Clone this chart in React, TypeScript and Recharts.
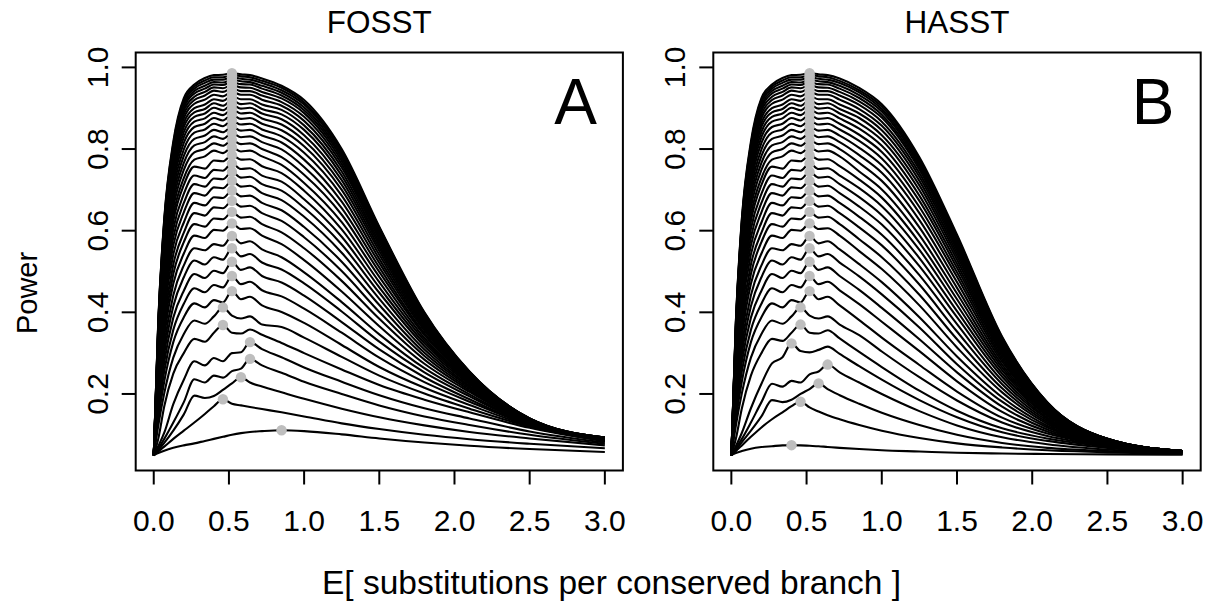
import React from 'react';
import { ComposedChart, Line, Scatter, XAxis, YAxis, ReferenceArea } from 'recharts';

// shared x positions (E[substitutions per conserved branch]) at which power was read
const xGrid = [0, 0.03, 0.07, 0.13, 0.2, 0.27, 0.34, 0.4, 0.46, 0.52, 0.58, 0.64, 0.72, 0.85, 1.0, 1.25, 1.5, 1.8, 2.1, 2.5, 3.0];

// six lowest curves, FOSST (panel A)
const lowA = [
  [0.05, 0.055, 0.061, 0.068, 0.074, 0.079, 0.085, 0.09, 0.095, 0.1, 0.104, 0.107, 0.109, 0.111, 0.109, 0.101, 0.091, 0.081, 0.073, 0.065, 0.058],
  [0.05, 0.059, 0.071, 0.09, 0.11, 0.13, 0.151, 0.17, 0.187, 0.176, 0.172, 0.168, 0.163, 0.155, 0.145, 0.128, 0.114, 0.1, 0.089, 0.078, 0.067],
  [0.05, 0.062, 0.08, 0.11, 0.15, 0.196, 0.19, 0.195, 0.21, 0.226, 0.241, 0.228, 0.218, 0.204, 0.188, 0.164, 0.143, 0.123, 0.107, 0.091, 0.074],
  [0.05, 0.066, 0.09, 0.13, 0.18, 0.236, 0.228, 0.245, 0.24, 0.256, 0.262, 0.286, 0.27, 0.252, 0.23, 0.2, 0.172, 0.145, 0.124, 0.1, 0.078],
  [0.05, 0.072, 0.105, 0.175, 0.235, 0.28, 0.27, 0.288, 0.28, 0.3, 0.302, 0.327, 0.31, 0.29, 0.265, 0.23, 0.197, 0.165, 0.14, 0.108, 0.081],
  [0.05, 0.09, 0.17, 0.25, 0.3, 0.335, 0.328, 0.35, 0.369, 0.35, 0.348, 0.358, 0.345, 0.325, 0.3, 0.26, 0.222, 0.186, 0.155, 0.117, 0.084],
];

// six lowest curves, HASST (panel B)
const lowB = [
  [0.05, 0.055, 0.06, 0.066, 0.07, 0.072, 0.074, 0.0745, 0.074, 0.073, 0.072, 0.07, 0.068, 0.065, 0.062, 0.059, 0.056, 0.054, 0.053, 0.052, 0.051],
  [0.05, 0.06, 0.074, 0.095, 0.118, 0.138, 0.155, 0.17, 0.181, 0.167, 0.157, 0.148, 0.138, 0.124, 0.11, 0.092, 0.079, 0.069, 0.062, 0.057, 0.053],
  [0.05, 0.063, 0.082, 0.11, 0.145, 0.185, 0.18, 0.186, 0.2, 0.212, 0.226, 0.212, 0.197, 0.176, 0.154, 0.124, 0.1, 0.08, 0.068, 0.06, 0.054],
  [0.05, 0.067, 0.09, 0.13, 0.18, 0.225, 0.218, 0.232, 0.228, 0.248, 0.255, 0.272, 0.253, 0.228, 0.2, 0.158, 0.123, 0.094, 0.077, 0.064, 0.056],
  [0.05, 0.072, 0.105, 0.165, 0.225, 0.275, 0.29, 0.324, 0.305, 0.302, 0.308, 0.316, 0.298, 0.268, 0.235, 0.185, 0.143, 0.106, 0.085, 0.068, 0.057],
  [0.05, 0.09, 0.165, 0.245, 0.3, 0.335, 0.33, 0.35, 0.37, 0.35, 0.348, 0.356, 0.336, 0.303, 0.266, 0.208, 0.159, 0.116, 0.091, 0.071, 0.058],
];

// upper curves 7..38: values for x = 0 .. 0.72 (same in both panels)
const headUpper = [
  [0.05, 0.122, 0.202, 0.289, 0.347, 0.38, 0.372, 0.39, 0.412, 0.392, 0.385, 0.39, 0.37],
  [0.05, 0.138, 0.231, 0.327, 0.388, 0.422, 0.412, 0.43, 0.424, 0.452, 0.432, 0.438, 0.417],
  [0.05, 0.151, 0.256, 0.357, 0.421, 0.459, 0.449, 0.467, 0.461, 0.489, 0.469, 0.475, 0.454],
  [0.05, 0.164, 0.278, 0.387, 0.453, 0.494, 0.484, 0.502, 0.496, 0.524, 0.504, 0.51, 0.489],
  [0.05, 0.177, 0.298, 0.415, 0.486, 0.527, 0.517, 0.535, 0.529, 0.557, 0.537, 0.543, 0.522],
  [0.05, 0.187, 0.319, 0.442, 0.515, 0.557, 0.552, 0.567, 0.563, 0.587, 0.569, 0.574, 0.554],
  [0.05, 0.198, 0.34, 0.47, 0.544, 0.588, 0.582, 0.602, 0.6, 0.618, 0.604, 0.606, 0.588],
  [0.05, 0.208, 0.36, 0.494, 0.572, 0.616, 0.61, 0.63, 0.628, 0.646, 0.632, 0.634, 0.616],
  [0.05, 0.218, 0.377, 0.517, 0.595, 0.643, 0.637, 0.657, 0.655, 0.673, 0.659, 0.661, 0.643],
  [0.05, 0.231, 0.4, 0.542, 0.62, 0.668, 0.662, 0.682, 0.68, 0.698, 0.684, 0.686, 0.668],
  [0.05, 0.242, 0.416, 0.564, 0.645, 0.692, 0.686, 0.706, 0.704, 0.722, 0.708, 0.71, 0.692],
  [0.05, 0.251, 0.432, 0.584, 0.668, 0.714, 0.708, 0.728, 0.726, 0.744, 0.73, 0.732, 0.714],
  [0.05, 0.261, 0.447, 0.604, 0.69, 0.735, 0.729, 0.749, 0.747, 0.765, 0.751, 0.753, 0.735],
  [0.05, 0.271, 0.462, 0.623, 0.712, 0.757, 0.752, 0.772, 0.77, 0.785, 0.774, 0.775, 0.758],
  [0.05, 0.276, 0.472, 0.638, 0.729, 0.774, 0.782, 0.796, 0.79, 0.804, 0.794, 0.796, 0.782],
  [0.05, 0.285, 0.486, 0.656, 0.749, 0.792, 0.8, 0.814, 0.808, 0.822, 0.812, 0.814, 0.8],
  [0.05, 0.293, 0.5, 0.672, 0.766, 0.809, 0.817, 0.831, 0.825, 0.839, 0.829, 0.831, 0.817],
  [0.05, 0.3, 0.513, 0.686, 0.783, 0.825, 0.833, 0.847, 0.841, 0.855, 0.845, 0.847, 0.833],
  [0.05, 0.307, 0.526, 0.701, 0.799, 0.84, 0.848, 0.862, 0.856, 0.87, 0.86, 0.862, 0.848],
  [0.05, 0.314, 0.538, 0.715, 0.815, 0.854, 0.862, 0.876, 0.87, 0.884, 0.874, 0.876, 0.862],
  [0.05, 0.321, 0.55, 0.728, 0.829, 0.867, 0.875, 0.889, 0.883, 0.897, 0.887, 0.889, 0.875],
  [0.05, 0.328, 0.56, 0.739, 0.842, 0.879, 0.887, 0.901, 0.895, 0.909, 0.899, 0.901, 0.887],
  [0.05, 0.334, 0.57, 0.749, 0.854, 0.89, 0.898, 0.912, 0.906, 0.92, 0.91, 0.912, 0.898],
  [0.05, 0.341, 0.579, 0.759, 0.864, 0.9, 0.909, 0.922, 0.918, 0.93, 0.922, 0.922, 0.909],
  [0.05, 0.348, 0.588, 0.771, 0.875, 0.911, 0.921, 0.933, 0.929, 0.94, 0.933, 0.933, 0.921],
  [0.05, 0.354, 0.597, 0.78, 0.885, 0.92, 0.931, 0.943, 0.94, 0.949, 0.942, 0.942, 0.931],
  [0.05, 0.359, 0.604, 0.788, 0.894, 0.928, 0.94, 0.951, 0.949, 0.957, 0.951, 0.95, 0.94],
  [0.05, 0.364, 0.61, 0.796, 0.901, 0.936, 0.948, 0.958, 0.957, 0.964, 0.959, 0.958, 0.948],
  [0.05, 0.367, 0.616, 0.802, 0.907, 0.942, 0.955, 0.964, 0.963, 0.97, 0.966, 0.964, 0.955],
  [0.05, 0.371, 0.621, 0.807, 0.914, 0.948, 0.962, 0.97, 0.97, 0.976, 0.972, 0.97, 0.962],
  [0.05, 0.375, 0.626, 0.812, 0.92, 0.953, 0.968, 0.976, 0.976, 0.981, 0.978, 0.976, 0.967],
  [0.05, 0.378, 0.63, 0.818, 0.925, 0.958, 0.974, 0.981, 0.982, 0.986, 0.983, 0.981, 0.973],
];

// upper curves 7..38: values for x = 0.85 .. 3.0, FOSST
const tailA = [
  [0.364, 0.338, 0.291, 0.245, 0.201, 0.164, 0.12, 0.085],
  [0.401, 0.374, 0.32, 0.266, 0.215, 0.173, 0.122, 0.086],
  [0.439, 0.409, 0.35, 0.289, 0.229, 0.181, 0.124, 0.086],
  [0.473, 0.441, 0.376, 0.309, 0.241, 0.187, 0.125, 0.087],
  [0.505, 0.471, 0.402, 0.328, 0.253, 0.194, 0.126, 0.087],
  [0.535, 0.498, 0.425, 0.346, 0.263, 0.199, 0.127, 0.088],
  [0.567, 0.528, 0.451, 0.366, 0.274, 0.205, 0.128, 0.088],
  [0.596, 0.557, 0.477, 0.384, 0.284, 0.209, 0.129, 0.088],
  [0.624, 0.584, 0.501, 0.401, 0.293, 0.213, 0.13, 0.089],
  [0.65, 0.609, 0.524, 0.418, 0.301, 0.217, 0.131, 0.089],
  [0.675, 0.634, 0.546, 0.433, 0.309, 0.22, 0.132, 0.089],
  [0.698, 0.656, 0.566, 0.448, 0.317, 0.224, 0.132, 0.089],
  [0.72, 0.677, 0.585, 0.461, 0.324, 0.227, 0.133, 0.09],
  [0.741, 0.698, 0.603, 0.474, 0.331, 0.23, 0.134, 0.09],
  [0.761, 0.717, 0.621, 0.487, 0.337, 0.232, 0.134, 0.09],
  [0.78, 0.737, 0.639, 0.499, 0.344, 0.235, 0.135, 0.09],
  [0.799, 0.756, 0.655, 0.51, 0.349, 0.237, 0.135, 0.091],
  [0.816, 0.774, 0.671, 0.521, 0.355, 0.239, 0.136, 0.091],
  [0.831, 0.791, 0.686, 0.531, 0.36, 0.241, 0.136, 0.091],
  [0.846, 0.807, 0.7, 0.541, 0.365, 0.242, 0.137, 0.091],
  [0.86, 0.821, 0.712, 0.55, 0.369, 0.244, 0.137, 0.092],
  [0.873, 0.834, 0.724, 0.558, 0.374, 0.245, 0.138, 0.092],
  [0.885, 0.847, 0.735, 0.565, 0.377, 0.247, 0.138, 0.092],
  [0.896, 0.858, 0.745, 0.572, 0.381, 0.248, 0.138, 0.092],
  [0.906, 0.869, 0.755, 0.579, 0.384, 0.249, 0.139, 0.092],
  [0.915, 0.879, 0.763, 0.585, 0.387, 0.25, 0.139, 0.092],
  [0.924, 0.888, 0.771, 0.59, 0.39, 0.251, 0.139, 0.093],
  [0.931, 0.895, 0.778, 0.595, 0.392, 0.252, 0.139, 0.093],
  [0.938, 0.902, 0.784, 0.599, 0.394, 0.253, 0.139, 0.093],
  [0.944, 0.909, 0.79, 0.603, 0.397, 0.254, 0.14, 0.093],
  [0.95, 0.914, 0.795, 0.607, 0.398, 0.254, 0.14, 0.093],
  [0.955, 0.92, 0.8, 0.61, 0.4, 0.255, 0.14, 0.093],
];

// upper curves 7..38: values for x = 0.85 .. 3.0, HASST
const tailB = [
  [0.344, 0.304, 0.241, 0.184, 0.13, 0.097, 0.073, 0.058],
  [0.381, 0.338, 0.271, 0.206, 0.142, 0.103, 0.074, 0.058],
  [0.42, 0.377, 0.305, 0.231, 0.156, 0.108, 0.075, 0.058],
  [0.455, 0.411, 0.334, 0.253, 0.169, 0.113, 0.076, 0.058],
  [0.488, 0.444, 0.363, 0.273, 0.181, 0.118, 0.078, 0.059],
  [0.518, 0.474, 0.388, 0.292, 0.192, 0.122, 0.079, 0.059],
  [0.55, 0.506, 0.417, 0.314, 0.204, 0.127, 0.08, 0.059],
  [0.579, 0.535, 0.443, 0.334, 0.214, 0.131, 0.081, 0.059],
  [0.608, 0.564, 0.468, 0.353, 0.224, 0.135, 0.082, 0.059],
  [0.634, 0.59, 0.491, 0.371, 0.233, 0.139, 0.082, 0.059],
  [0.659, 0.615, 0.513, 0.388, 0.242, 0.142, 0.083, 0.06],
  [0.682, 0.638, 0.533, 0.403, 0.25, 0.146, 0.084, 0.06],
  [0.704, 0.66, 0.553, 0.418, 0.258, 0.149, 0.085, 0.06],
  [0.725, 0.681, 0.571, 0.432, 0.265, 0.152, 0.085, 0.06],
  [0.745, 0.701, 0.589, 0.446, 0.272, 0.155, 0.086, 0.06],
  [0.766, 0.722, 0.608, 0.46, 0.279, 0.157, 0.086, 0.06],
  [0.785, 0.742, 0.626, 0.474, 0.285, 0.159, 0.087, 0.06],
  [0.803, 0.76, 0.643, 0.487, 0.291, 0.162, 0.087, 0.06],
  [0.82, 0.777, 0.658, 0.498, 0.297, 0.164, 0.088, 0.06],
  [0.835, 0.793, 0.673, 0.509, 0.302, 0.166, 0.088, 0.06],
  [0.85, 0.808, 0.686, 0.519, 0.307, 0.168, 0.088, 0.06],
  [0.863, 0.822, 0.699, 0.529, 0.311, 0.169, 0.088, 0.06],
  [0.876, 0.834, 0.711, 0.538, 0.316, 0.171, 0.089, 0.06],
  [0.887, 0.846, 0.722, 0.546, 0.319, 0.172, 0.089, 0.06],
  [0.898, 0.857, 0.732, 0.554, 0.323, 0.174, 0.089, 0.06],
  [0.908, 0.867, 0.741, 0.561, 0.326, 0.175, 0.089, 0.06],
  [0.917, 0.877, 0.75, 0.567, 0.329, 0.176, 0.089, 0.06],
  [0.925, 0.884, 0.757, 0.572, 0.332, 0.177, 0.09, 0.06],
  [0.932, 0.892, 0.763, 0.577, 0.334, 0.178, 0.09, 0.06],
  [0.939, 0.898, 0.769, 0.582, 0.336, 0.179, 0.09, 0.06],
  [0.944, 0.904, 0.775, 0.586, 0.338, 0.179, 0.09, 0.06],
  [0.95, 0.91, 0.78, 0.59, 0.34, 0.18, 0.09, 0.06],
];

// grey dots: maximum of each curve
const peakXA = [0.85, 0.46, 0.58, 0.64, 0.64, 0.46, 0.46, 0.52, 0.52, 0.52, 0.52, 0.52, 0.52, 0.52, 0.52, 0.52, 0.52, 0.52, 0.52, 0.52, 0.52, 0.52, 0.52, 0.52, 0.52, 0.52, 0.52, 0.52, 0.52, 0.52, 0.52, 0.52, 0.52, 0.52, 0.52, 0.52, 0.52, 0.52];
const peakYA = [0.111, 0.187, 0.241, 0.286, 0.327, 0.369, 0.412, 0.452, 0.489, 0.524, 0.557, 0.587, 0.618, 0.646, 0.673, 0.698, 0.722, 0.744, 0.765, 0.785, 0.804, 0.822, 0.839, 0.855, 0.87, 0.884, 0.897, 0.909, 0.92, 0.93, 0.94, 0.949, 0.957, 0.964, 0.97, 0.976, 0.981, 0.986];
const peakXB = [0.4, 0.46, 0.58, 0.64, 0.4, 0.46, 0.46, 0.52, 0.52, 0.52, 0.52, 0.52, 0.52, 0.52, 0.52, 0.52, 0.52, 0.52, 0.52, 0.52, 0.52, 0.52, 0.52, 0.52, 0.52, 0.52, 0.52, 0.52, 0.52, 0.52, 0.52, 0.52, 0.52, 0.52, 0.52, 0.52, 0.52, 0.52];
const peakYB = [0.0745, 0.181, 0.226, 0.272, 0.324, 0.37, 0.412, 0.452, 0.489, 0.524, 0.557, 0.587, 0.618, 0.646, 0.673, 0.698, 0.722, 0.744, 0.765, 0.785, 0.804, 0.822, 0.839, 0.855, 0.87, 0.884, 0.897, 0.909, 0.92, 0.93, 0.94, 0.949, 0.957, 0.964, 0.97, 0.976, 0.981, 0.986];

const xTicks = [0, 0.5, 1, 1.5, 2, 2.5, 3];
const yTicks = [0.2, 0.4, 0.6, 0.8, 1.0];
const panelTitles = ['FOSST', 'HASST'];
const panelLetters = ['A', 'B'];
const xLabel = 'E[ substitutions per conserved branch ]';
const yLabel = 'Power';

const X_DOMAIN: [number, number] = [-0.12, 3.12];
const Y_DOMAIN: [number, number] = [0.0125, 1.0365];
const FONT = '"Liberation Sans", Arial, Helvetica, sans-serif';
const H = 603;
const PLOT_TOP = 52.5;
const PLOT_BOTTOM = 470.5;
const X_AXIS_H = 60;
const Y_AXIS_W = 60;
const TICK_FONT = 30;

function buildCurves(low: number[][], head: number[][], tail: number[][]) {
  return [...low, ...head.map((h, i) => [...h, ...tail[i]])];
}

function buildRows(curves: number[][]) {
  return xGrid.map((x, i) => {
    const r: any = { x };
    curves.forEach((c, k) => { r['c' + k] = c[i]; });
    return r;
  });
}

type PanelProps = {
  curves: number[][];
  peakX: number[];
  peakY: number[];
  left: number;
  width: number;
  boxLeft: number;
  boxRight: number;
};

function Panel({ curves, peakX, peakY, left, width, boxLeft, boxRight }: PanelProps) {
  const rows = buildRows(curves);
  const dots = peakX.map((x, i) => ({ x, y: peakY[i] }));
  const labelX = boxLeft - 28;
  return (
    <div style={{ position: 'absolute', left, top: 0, width, height: H }}>
      <ComposedChart
        width={width}
        height={H}
        data={rows}
        margin={{ top: PLOT_TOP, right: width - boxRight, bottom: H - PLOT_BOTTOM - X_AXIS_H, left: boxLeft - Y_AXIS_W }}
      >
        <XAxis
          dataKey="x"
          type="number"
          domain={X_DOMAIN}
          ticks={xTicks}
          interval={0}
          allowDataOverflow
          height={X_AXIS_H}
          axisLine={false}
          tickSize={14}
          tickLine={{ stroke: '#000', strokeWidth: 2 }}
          tick={(p: any) => (
            <text x={p.x} y={531} textAnchor="middle" fontSize={TICK_FONT} fontFamily={FONT} fill="#000">
              {Number(p.payload.value).toFixed(1)}
            </text>
          )}
        />
        <YAxis
          type="number"
          domain={Y_DOMAIN}
          ticks={yTicks}
          interval={0}
          allowDataOverflow
          width={Y_AXIS_W}
          axisLine={false}
          tickSize={14}
          tickLine={{ stroke: '#000', strokeWidth: 2 }}
          tick={(p: any) => (
            <text
              x={labelX}
              y={p.y}
              transform={`rotate(-90 ${labelX} ${p.y})`}
              textAnchor="middle"
              fontSize={TICK_FONT}
              fontFamily={FONT}
              fill="#000"
            >
              {Number(p.payload.value).toFixed(1)}
            </text>
          )}
        />
        {curves.map((_, k) => (
          <Line
            key={k}
            dataKey={'c' + k}
            type="monotone"
            stroke="#000"
            strokeWidth={2.1}
            dot={false}
            activeDot={false}
            isAnimationActive={false}
          />
        ))}
        <Scatter
          data={dots}
          dataKey="y"
          fill="#bebebe"
          isAnimationActive={false}
          shape={(p: any) => <circle cx={p.cx} cy={p.cy} r={5.2} fill="#bebebe" />}
        />
        <ReferenceArea
          x1={X_DOMAIN[0]}
          x2={X_DOMAIN[1]}
          y1={Y_DOMAIN[0]}
          y2={Y_DOMAIN[1]}
          fill="none"
          fillOpacity={0}
          stroke="#000"
          strokeWidth={2}
          ifOverflow="visible"
        />
      </ComposedChart>
    </div>
  );
}

export default function App() {
  const curvesA = buildCurves(lowA, headUpper, tailA);
  const curvesB = buildCurves(lowB, headUpper, tailB);
  return (
    <div style={{ position: 'absolute', left: 0, top: 0, width: 1213, height: H, background: '#fff', overflow: 'hidden' }}>
      <Panel curves={curvesA} peakX={peakXA} peakY={peakYA} left={0} width={640} boxLeft={135.7} boxRight={622.9} />
      <Panel curves={curvesB} peakX={peakXB} peakY={peakYB} left={640} width={573} boxLeft={73.3} boxRight={560.7} />
      <svg width={1213} height={H} style={{ position: 'absolute', left: 0, top: 0, pointerEvents: 'none' }}>
        <text x={379.3} y={33} textAnchor="middle" fontSize={31.5} fontFamily={FONT} fill="#000">{panelTitles[0]}</text>
        <text x={957} y={33} textAnchor="middle" fontSize={31.5} fontFamily={FONT} fill="#000">{panelTitles[1]}</text>
        <text x={575.5} y={124} textAnchor="middle" fontSize={64} fontFamily={FONT} fill="#000">{panelLetters[0]}</text>
        <text x={1153} y={124} textAnchor="middle" fontSize={64} fontFamily={FONT} fill="#000">{panelLetters[1]}</text>
        <text x={611.5} y={594} textAnchor="middle" fontSize={33.5} fontFamily={FONT} fill="#000">{xLabel}</text>
        <text x={37} y={293} transform="rotate(-90 37 293)" textAnchor="middle" fontSize={29} fontFamily={FONT} fill="#000">{yLabel}</text>
      </svg>
    </div>
  );
}
